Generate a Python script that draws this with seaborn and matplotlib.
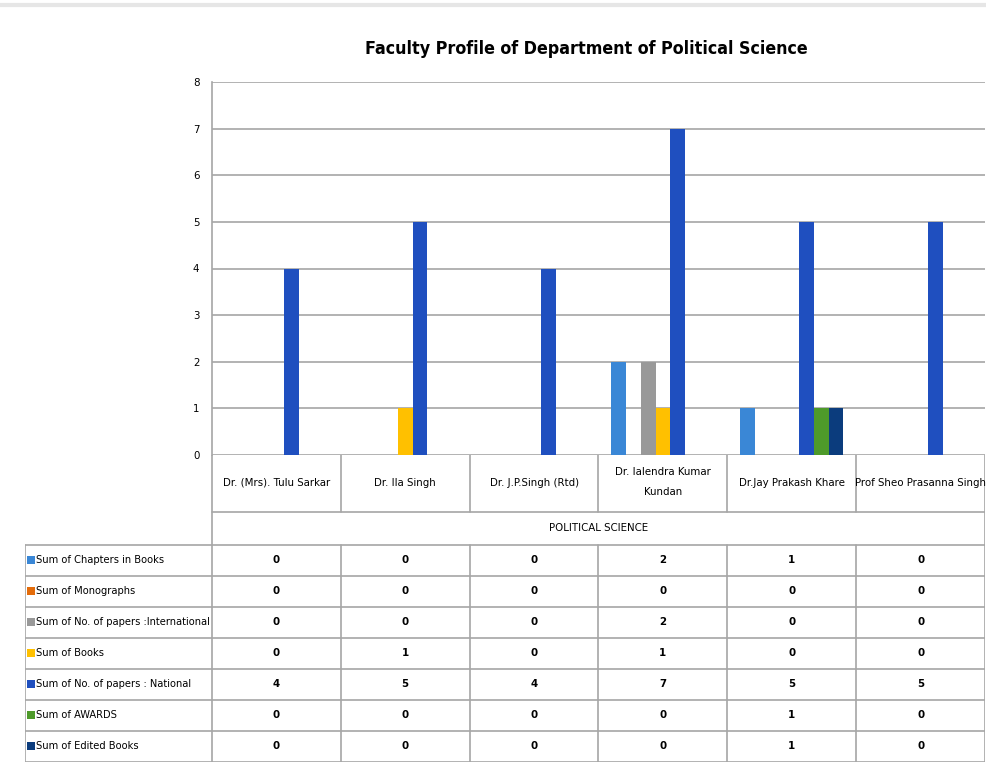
import numpy as np
import pandas as pd
import matplotlib
matplotlib.use("Agg")
import matplotlib.pyplot as plt
import seaborn as sns

# data
faculty = ["Dr. (Mrs). Tulu Sarkar", "Dr. Ila Singh", "Dr. J.P.Singh (Rtd)",
           "Dr. Ialendra Kumar\nKundan", "Dr.Jay Prakash Khare", "Prof Sheo Prasanna Singh"]
series = ["Sum of Chapters in Books", "Sum of Monographs", "Sum of No. of papers :International",
          "Sum of Books", "Sum of No. of papers : National", "Sum of AWARDS", "Sum of Edited Books"]
chapters = [0, 0, 0, 2, 1, 0]
monographs = [0, 0, 0, 0, 0, 0]
international = [0, 0, 0, 2, 0, 0]
books = [0, 1, 0, 1, 0, 0]
national = [4, 5, 4, 7, 5, 5]
awards = [0, 0, 0, 0, 1, 0]
edited = [0, 0, 0, 0, 1, 0]
colors = ["#3A87D6", "#E46C0A", "#999999", "#FFC000", "#1F4FBF", "#4E9A2A", "#0B3C7D"]

values = [chapters, monographs, international, books, national, awards, edited]
rows = []
for s, vals in zip(series, values):
    for f, v in zip(faculty, vals):
        rows.append({"faculty": f, "series": s, "value": v})
df = pd.DataFrame(rows)

sns.set_style("white")
plt.rcParams['font.family'] = ['DejaVu Sans']
plt.rcParams['font.stretch'] = 'condensed'
plt.rcParams['text.color'] = 'black'
plt.rcParams['ytick.color'] = 'black'

W, H = 987, 765
fig = plt.figure(figsize=(W / 100, H / 100), dpi=100)

def fx(px):
    return px / W

def fy(py):
    return 1 - py / H

FS = 8.2

# --- bar chart ---
x0, x1, y_top, y_bot = 212, 985, 82, 455
ax = fig.add_axes([fx(x0), fy(y_bot), fx(x1) - fx(x0), fy(y_top) - fy(y_bot)])
sns.barplot(data=df, x="faculty", y="value", hue="series", hue_order=series,
            order=faculty, palette=colors, width=0.8, ax=ax, legend=False,
            saturation=1, linewidth=0)
ax.set_ylim(0, 8)
ax.set_xlim(-0.5, 5.5)
ax.set_yticks(range(9))
ax.tick_params(axis="y", length=0, labelsize=FS, pad=9)
ax.set_xticks([])
ax.set_xlabel("")
ax.set_ylabel("")
ax.grid(axis="y", color="#A6A6A6", linewidth=1.2)
ax.set_axisbelow(True)
for side in ["top", "right", "bottom"]:
    ax.spines[side].set_visible(False)
ax.spines["left"].set_color("#A6A6A6")
ax.spines["left"].set_linewidth(1.2)

fig.text(fx(586), fy(49), "Faculty Profile of Department of Political Science",
         ha="center", va="center", fontsize=12.8, fontweight="bold")

# --- data table ---
tx0, ty0, ty1 = 25, 455, 762
cat_w = (x1 - x0) / 6
tab = fig.add_axes([fx(tx0), fy(ty1), fx(x1) - fx(tx0), fy(ty0) - fy(ty1)])
left = -0.5 - (x0 - tx0) / cat_w
tab.set_xlim(left, 5.5)
tab.set_ylim(ty1, ty0)
tab.axis("off")
lc = "#A6A6A6"
lw = 1.2
row_h = (ty1 - 545) / 7

tab.plot([-0.5, 5.5], [512, 512], color=lc, lw=lw)
tab.plot([left, 5.5], [545, 545], color=lc, lw=lw)
tab.plot([-0.5, -0.5], [455, ty1], color=lc, lw=lw)
tab.plot([5.5, 5.5], [455, ty1], color=lc, lw=lw)
tab.plot([left, left], [545, ty1], color=lc, lw=lw)
for i in range(1, 6):
    tab.plot([i - 0.5, i - 0.5], [455, 512], color=lc, lw=lw)
    tab.plot([i - 0.5, i - 0.5], [545, ty1], color=lc, lw=lw)
for r in range(1, 8):
    y = 545 + r * row_h
    tab.plot([left, 5.5], [y, y], color=lc, lw=lw)

for i, name in enumerate(faculty):
    yc = 482 if "\n" in name else 483
    tab.text(i, yc, name, ha="center", va="center", fontsize=FS, linespacing=2.2)
tab.text(2.5, 528, "POLITICAL SCIENCE", ha="center", va="center", fontsize=FS)

for r, (s, vals, c) in enumerate(zip(series, values, colors)):
    yc = 545 + (r + 0.5) * row_h
    tab.scatter([left + 0.05], [yc], marker="s", s=26, color=c, linewidths=0)
    tab.text(left + 0.087, yc, s, ha="left", va="center", fontsize=7.9)
    for i, v in enumerate(vals):
        tab.text(i, yc, str(v), ha="center", va="center", fontsize=FS, fontweight="bold")

# faint outer frame
fig.add_artist(plt.Line2D([0, 1], [fy(5), fy(5)], color="#E6E6E6", lw=3))

plt.savefig("out.png", dpi=100)
